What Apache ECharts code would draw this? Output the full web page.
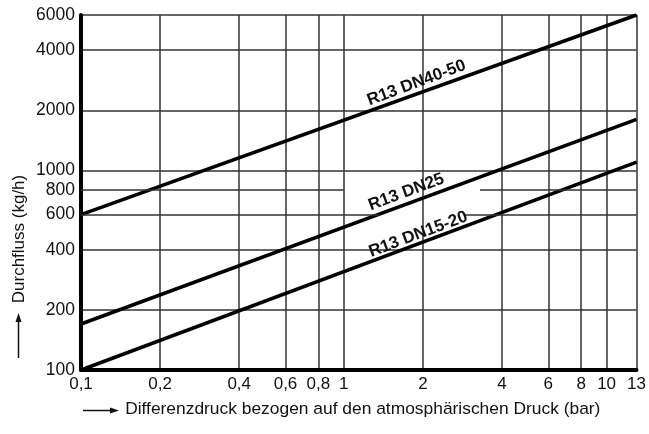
<!DOCTYPE html>
<html><head><meta charset="utf-8">
<script src="https://cdn.jsdelivr.net/npm/echarts@6/dist/echarts.min.js"></script>
<style>html,body{margin:0;padding:0;background:#fff}#c{width:649px;height:434px}</style>
</head><body><div id="c"></div>
<script>
// ---- data ----
const xTicks = [0.1, 0.2, 0.4, 0.6, 0.8, 1, 2, 4, 6, 8, 10, 13];
const yGridTicks = [100, 200, 400, 1000, 2000, 4000, 6000];
const yLabels = [100, 200, 400, 600, 800, 1000, 2000, 4000, 6000];
const seriesNames = ['R13 DN40-50', 'R13 DN25', 'R13 DN15-20'];
const pressure = [0.1, 13];
const flowDN40_50 = [600, 6000];
const flowDN25 = [170, 1800];
const flowDN15_20 = [100, 1100];
const labelAnchors = [[1.89, 2740], [1.73, 778], [1.92, 478]];
// interrupted gridlines: [fromX, toX, y]
const partialGrid = [[0.1, 1.36, 600], [2.87, 13, 600], [0.1, 1, 800], [3.3, 13, 800]];
const xTitle = 'Differenzdruck bezogen auf den atmosphärischen Druck (bar)';
const yTitle = 'Durchfluss (kg/h)';

const FONT = '"Liberation Sans", Arial, Helvetica, sans-serif';
const gridLine = {color: '#333', width: 1.5, type: 'solid'};
const flows = [flowDN40_50, flowDN25, flowDN15_20];

const chart = echarts.init(document.getElementById('c'), null, {renderer: 'canvas'});

const series = [{
  type: 'line', data: [], silent: true, z: 1,
  markLine: {
    silent: true, symbol: ['none', 'none'], label: {show: false},
    lineStyle: gridLine, emphasis: {disabled: true},
    data: partialGrid.map(g => [{coord: [g[0], g[2]]}, {coord: [g[1], g[2]]}])
  }
}];
seriesNames.forEach((nm, i) => {
  series.push({
    name: nm, type: 'line', z: 3, silent: true,
    symbol: 'none', showSymbol: false,
    lineStyle: {color: '#000', width: 3.5},
    data: pressure.map((p, j) => [p, flows[i][j]]),
    markPoint: {
      symbol: 'circle', symbolSize: 0, silent: true,
      label: {show: true, position: 'inside', formatter: nm, rotate: 20.5,
              fontSize: 17, fontWeight: 'bold', color: '#111', fontFamily: FONT},
      data: [{coord: labelAnchors[i]}]
    }
  });
});

const fmt = v => (+(+v).toPrecision(6)).toString().replace('.', ',');

chart.setOption({
  animation: false,
  backgroundColor: '#fff',
  textStyle: {fontFamily: FONT},
  grid: {left: 81, right: 11, top: 15, bottom: 64, show: false},
  xAxis: {
    type: 'log', logBase: 10, min: 0.1, max: 13,
    axisLine: {show: true, onZero: false, lineStyle: {color: '#000', width: 4}},
    axisTick: {show: false, customValues: xTicks},
    axisLabel: {customValues: xTicks, formatter: fmt, fontSize: 17, color: '#111', margin: 6, fontFamily: FONT},
    splitLine: {show: true, lineStyle: gridLine},
    minorTick: {show: false}, minorSplitLine: {show: false},
    name: xTitle, nameLocation: 'middle', nameGap: 31,
    nameTextStyle: {fontSize: 17.4, color: '#111', fontFamily: FONT, padding: [0, 0, 0, 8]}
  },
  yAxis: {
    type: 'log', logBase: 10, min: 100, max: 6000,
    axisLine: {show: true, onZero: false, lineStyle: {color: '#000', width: 4}},
    axisTick: {show: false, customValues: yGridTicks},
    axisLabel: {customValues: yLabels, formatter: fmt, fontSize: 17.5, color: '#111', margin: 6, fontFamily: FONT},
    splitLine: {show: true, lineStyle: gridLine},
    minorTick: {show: false}, minorSplitLine: {show: false}
  },
  graphic: [
    {type: 'text', x: 19, y: 239, rotation: Math.PI / 2,
     style: {text: yTitle, fontSize: 17, fill: '#111', fontFamily: FONT, align: 'center', verticalAlign: 'middle'}},
    {type: 'line', shape: {x1: 18.5, y1: 358, x2: 18.5, y2: 320}, style: {stroke: '#111', lineWidth: 1.5}},
    {type: 'polygon', shape: {points: [[18.5, 313], [15.5, 322], [21.5, 322]]}, style: {fill: '#111'}},
    {type: 'line', shape: {x1: 83, y1: 410.5, x2: 112, y2: 410.5}, style: {stroke: '#111', lineWidth: 1.5}},
    {type: 'polygon', shape: {points: [[119, 410.5], [110, 407.5], [110, 413.5]]}, style: {fill: '#111'}}
  ],
  series: series
});
</script>
</body></html>
